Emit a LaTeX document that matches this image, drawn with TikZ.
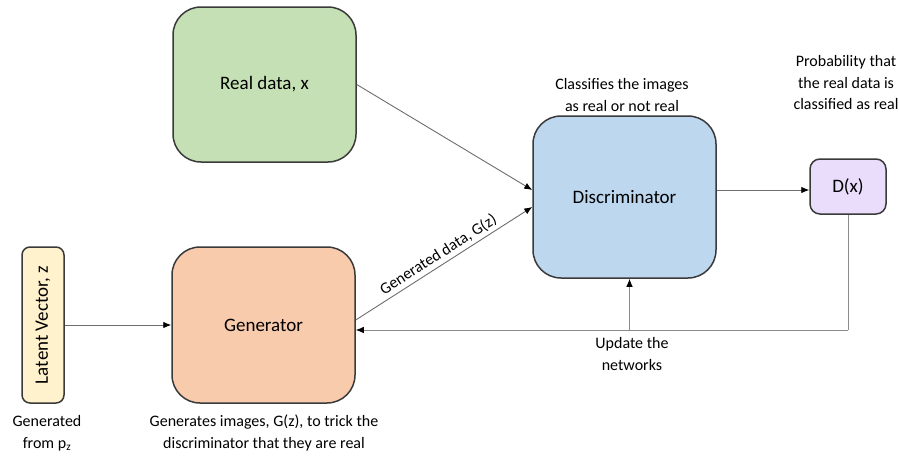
\documentclass[tikz,border=0pt]{standalone}
\usepackage{fontspec}
\setmainfont{Carlito}
\usetikzlibrary{arrows.meta,calc}
\definecolor{rdgreen}{HTML}{C5E0B4}
\definecolor{discblue}{HTML}{BDD7EE}
\definecolor{genorange}{HTML}{F8CBAD}
\definecolor{latyellow}{HTML}{FFF2CC}
\definecolor{dxpurple}{HTML}{E9DDFB}
\definecolor{edgegray}{HTML}{3A3A3A}
\definecolor{linegray}{HTML}{6E6E6E}
\tikzset{
  bigbox/.style={draw=edgegray, line width=1.5pt, rounded corners=28pt, minimum width=183pt, align=center, font=\fontsize{19}{23}\selectfont, inner sep=0pt},
  smallbox/.style={draw=edgegray, line width=1.5pt, rounded corners=8pt, align=center, font=\fontsize{19}{23}\selectfont, inner sep=0pt},
  note/.style={align=center, font=\fontsize{16}{21.5}\selectfont, inner sep=0pt},
  conn/.style={draw=linegray, line width=0.9pt, -{Latex[length=8pt,width=6.5pt,color=black]}},
  plainline/.style={draw=linegray!80, line width=1pt},
}
\begin{document}
\begin{tikzpicture}[x=1pt,y=-1pt]
\useasboundingbox[fill=white] (0,0) rectangle (899,455);
% boxes
\node[bigbox, fill=rdgreen, minimum height=155pt] (rd) at (264.5,84.5) {Real data, x};
\node[bigbox, fill=discblue, minimum height=162pt] (disc) at (624.5,197) {Discriminator};
\node[bigbox, fill=genorange, minimum height=156pt] (gen) at (263.5,325) {Generator};
\node[smallbox, fill=latyellow, minimum width=42pt, minimum height=156pt] (lat) at (43,325) {};
\node[rotate=90, font=\fontsize{19}{23}\selectfont, inner sep=0pt] (latt) at (lat.center) {Latent Vector, z};
\node[smallbox, fill=dxpurple, minimum width=76pt, minimum height=55pt, rounded corners=10pt] (dx) at (848,186.5) {D(x)};
% notes
\node[note] (n1) at (622,95) {Classifies the images\\as real or not real};
\node[note] (n2) at (846,83) {Probability that\\the real data is\\classified as real};
\node[note] (n3) at (47,433) {Generated\\from p\textsubscript{z}};
\node[note] (n4) at (264,433) {Generates images, G(z), to trick the\\discriminator that they are real};
\node[note] (n5) at (632,354) {Update the\\networks};
% helper coordinates
\coordinate (fb) at (0,330);
\coordinate (da) at (0,190);
% connectors
\draw[conn] (lat.east) -- (gen.west);
\draw[conn] (rd.east) -- ($(disc.west)+(0,-7)$);
\draw[conn] ($(gen.east)+(0,-5)$) -- node[sloped, above=3pt, font=\fontsize{16}{19}\selectfont, inner sep=0pt] {Generated data, G(z)} ($(disc.west)+(0,10)$);
\draw[conn] (disc.east |- da) -- (dx.west |- da);
\draw[plainline] (dx.south) -- (dx.south |- fb);
\draw[conn, draw=linegray!80] (dx.south |- fb) -- (gen.east |- fb);
\draw[conn, draw=linegray!80] ($(disc.south |- fb)+(5,0)$) -- ($(disc.south)+(5,0)$);
\end{tikzpicture}
\end{document}
